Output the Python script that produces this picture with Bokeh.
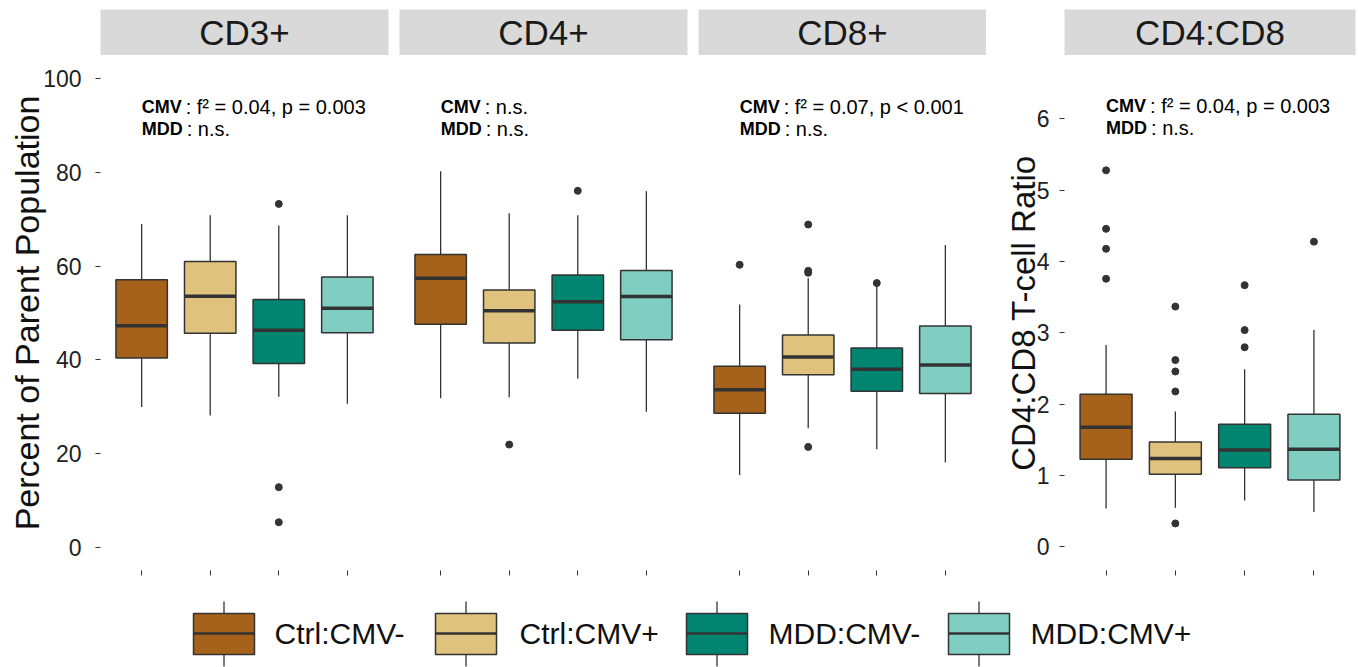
from bokeh.plotting import figure
from bokeh.layouts import row, column
from bokeh.models import Range1d, FixedTicker, ColumnDataSource
from bokeh.embed import file_html
from bokeh.resources import INLINE
from bokeh.core.properties import value

# ---------------- data ----------------
groups = ["Ctrl:CMV-", "Ctrl:CMV+", "MDD:CMV-", "MDD:CMV+"]
colors = ["#A6611A", "#DFC27D", "#018571", "#80CDC1"]
positions = [1, 2, 3, 4]
panels = ["CD3+", "CD4+", "CD8+", "CD4:CD8"]

cd3_lower = [29.9, 28.1, 32.1, 30.6]
cd3_q1 = [40.4, 45.7, 39.2, 45.8]
cd3_med = [47.3, 53.6, 46.3, 51.0]
cd3_q3 = [57.1, 61.0, 52.9, 57.7]
cd3_upper = [69.0, 70.9, 68.7, 70.9]
cd3_out_group = [3, 3, 3]
cd3_out_val = [73.3, 12.8, 5.3]

cd4_lower = [31.8, 32.0, 36.0, 28.9]
cd4_q1 = [47.6, 43.6, 46.3, 44.3]
cd4_med = [57.4, 50.5, 52.4, 53.5]
cd4_q3 = [62.5, 54.9, 58.1, 59.1]
cd4_upper = [80.3, 71.3, 70.9, 76.0]
cd4_out_group = [2, 3]
cd4_out_val = [21.9, 76.1]

cd8_lower = [15.4, 25.4, 20.9, 18.1]
cd8_q1 = [28.6, 36.8, 33.3, 32.8]
cd8_med = [33.6, 40.6, 38.0, 38.9]
cd8_q3 = [38.6, 45.3, 42.5, 47.2]
cd8_upper = [51.8, 57.4, 55.8, 64.5]
cd8_out_group = [1, 2, 2, 2, 2, 3]
cd8_out_val = [60.3, 68.9, 59.0, 58.6, 21.4, 56.4]

ratio_lower = [0.54, 0.55, 0.65, 0.49]
ratio_q1 = [1.23, 1.02, 1.11, 0.94]
ratio_med = [1.68, 1.24, 1.36, 1.37]
ratio_q3 = [2.14, 1.47, 1.72, 1.86]
ratio_upper = [2.83, 1.90, 2.49, 3.04]
ratio_out_group = [1, 1, 1, 1, 2, 2, 2, 2, 2, 3, 3, 3, 4]
ratio_out_val = [5.28, 4.46, 4.18, 3.76, 3.37, 2.62, 2.46, 2.18, 0.33, 3.67, 3.04, 2.80, 4.28]

pct_ticks = [0, 20, 40, 60, 80, 100]
ratio_ticks = [0, 1, 2, 3, 4, 5, 6]

annot_cmv = ["f\u00b2 = 0.04, p = 0.003", "n.s.", "f\u00b2 = 0.07, p < 0.001", "f\u00b2 = 0.04, p = 0.003"]
annot_mdd = ["n.s.", "n.s.", "n.s.", "n.s."]

# ---------------- styling / layout ----------------
FONT = value("Liberation Sans")
DARK = "#333333"
BOX_W = 0.75
STRIP_TOP = 9
STRIP_H = 46
FRAME_H = 515
BOTTOM_B = 10
# (width, min_border_left, min_border_right) per panel figure
geom = [(399, 100, 11), (299, 0, 11), (288, 0, 0), (372, 78, 3)]
yranges = [(-5, 105), (-5, 105), (-5, 105), (-0.33, 6.89)]
annot_y = [94.0, 94.0, 94.0, 6.18]

data = [
    (cd3_lower, cd3_q1, cd3_med, cd3_q3, cd3_upper, cd3_out_group, cd3_out_val),
    (cd4_lower, cd4_q1, cd4_med, cd4_q3, cd4_upper, cd4_out_group, cd4_out_val),
    (cd8_lower, cd8_q1, cd8_med, cd8_q3, cd8_upper, cd8_out_group, cd8_out_val),
    (ratio_lower, ratio_q1, ratio_med, ratio_q3, ratio_upper, ratio_out_group, ratio_out_val),
]


def style_common(p):
    p.grid.grid_line_color = None
    p.outline_line_color = None
    p.background_fill_color = "white"
    p.border_fill_color = "white"


strips = []
figs = []
for i, name in enumerate(panels):
    w, bl, br = geom[i]
    # strip header
    s = figure(width=w, height=STRIP_TOP + STRIP_H, x_range=Range1d(0, 1), y_range=Range1d(0, 1),
               min_border_left=bl, min_border_right=br, min_border_top=STRIP_TOP, min_border_bottom=0,
               x_axis_location=None, y_axis_location=None,
               toolbar_location=None, output_backend="svg")
    s.grid.grid_line_color = None
    s.outline_line_color = None
    s.background_fill_color = "#D9D9D9"
    s.border_fill_color = "white"
    s.text(x=[0.5], y=[0.5], text=[name], text_align="center", text_baseline="middle",
           text_font=FONT, text_font_size="35px", text_color="#1A1A1A")
    strips.append(s)

    has_y = i in (0, 3)
    p = figure(width=w, height=FRAME_H + BOTTOM_B,
               x_range=Range1d(0.4, 4.6), y_range=Range1d(*yranges[i]),
               min_border_left=bl, min_border_right=br, min_border_top=0,
               min_border_bottom=BOTTOM_B,
               y_axis_location="left" if has_y else None,
               toolbar_location=None, output_backend="svg")
    style_common(p)

    xa = p.xaxis[0]
    xa.ticker = FixedTicker(ticks=positions)
    xa.major_label_text_font_size = "1px"
    xa.major_label_text_color = None
    xa.major_label_standoff = 0
    xa.axis_line_color = None
    xa.major_tick_in = 0
    xa.major_tick_out = 5
    xa.major_tick_line_color = DARK
    xa.major_tick_line_width = 1
    xa.minor_tick_line_color = None

    if has_y:
        ya = p.yaxis[0]
        ya.ticker = FixedTicker(ticks=pct_ticks if i == 0 else ratio_ticks)
        ya.axis_label = "Percent of Parent Population" if i == 0 else "CD4:CD8 T-cell Ratio"
        ya.axis_label_text_font = "Liberation Sans"
        ya.axis_label_text_font_style = "normal"
        ya.axis_label_text_font_size = "34px" if i == 0 else "33px"
        ya.axis_label_text_color = "#111111"
        ya.axis_label_standoff = -6 if i == 0 else -8
        ya.major_label_text_font = "Liberation Sans"
        ya.major_label_text_font_size = "23px"
        ya.major_label_text_color = "#222222"
        ya.major_label_standoff = 14 if i == 0 else 10
        ya.axis_line_color = None
        ya.major_tick_in = 0
        ya.major_tick_out = 5
        ya.major_tick_line_color = DARK
        ya.minor_tick_line_color = None

    lower, q1, med, q3, upper, og, ov = data[i]
    src = ColumnDataSource(dict(
        x=positions, lower=lower, q1=q1, med=med, q3=q3, upper=upper, color=colors,
        x0=[x - BOX_W / 2 for x in positions], x1=[x + BOX_W / 2 for x in positions]))
    p.segment(x0="x", y0="q3", x1="x", y1="upper", source=src, line_color=DARK, line_width=1.3)
    p.segment(x0="x", y0="q1", x1="x", y1="lower", source=src, line_color=DARK, line_width=1.3)
    p.vbar(x="x", width=BOX_W, bottom="q1", top="q3", source=src,
           fill_color="color", line_color=DARK, line_width=1.5)
    p.segment(x0="x0", y0="med", x1="x1", y1="med", source=src, line_color=DARK, line_width=3.5)
    p.scatter(x=og, y=ov, size=7, fill_color=DARK, line_color=DARK)

    # annotations
    ay = annot_y[i]
    p.text(x=[1], y=[ay], text=["CMV"], text_font=FONT, text_font_style="bold",
           text_font_size="18px", text_baseline="alphabetic", text_align="left", text_color="black")
    p.text(x=[1], y=[ay], text=[": " + annot_cmv[i]], x_offset=44, text_font=FONT,
           text_font_size="20px", text_baseline="alphabetic", text_align="left", text_color="black")
    p.text(x=[1], y=[ay], text=["MDD"], y_offset=22, text_font=FONT, text_font_style="bold",
           text_font_size="18px", text_baseline="alphabetic", text_align="left", text_color="black")
    p.text(x=[1], y=[ay], text=[": " + annot_mdd[i]], x_offset=45, y_offset=22, text_font=FONT,
           text_font_size="20px", text_baseline="alphabetic", text_align="left", text_color="black")
    figs.append(p)

# ---------------- legend ----------------
TOTAL_W = sum(g[0] for g in geom)
LEG_TOP = STRIP_TOP + STRIP_H + FRAME_H + BOTTOM_B
LEG_H = 667 - LEG_TOP
leg = figure(width=TOTAL_W, height=LEG_H, x_range=Range1d(0, TOTAL_W), y_range=Range1d(667, LEG_TOP),
             min_border=0, x_axis_location=None, y_axis_location=None,
             toolbar_location=None, output_backend="svg")
style_common(leg)
key_left = [193, 435, 686, 948]
key_w = 61
label_left = [274, 519, 768, 1030]
kc = 633
lsrc = ColumnDataSource(dict(
    left=key_left, right=[k + key_w for k in key_left], xc=[k + key_w / 2 for k in key_left],
    top=[kc - 20] * 4, bottom=[kc + 21] * 4, wt=[kc - 32] * 4, wb=[kc + 33] * 4,
    yc=[kc] * 4, color=colors, lx=label_left, label=groups))
leg.segment(x0="xc", y0="wt", x1="xc", y1="top", source=lsrc, line_color=DARK, line_width=1.3)
leg.segment(x0="xc", y0="bottom", x1="xc", y1="wb", source=lsrc, line_color=DARK, line_width=1.3)
leg.quad(left="left", right="right", top="top", bottom="bottom", source=lsrc,
         fill_color="color", line_color=DARK, line_width=1.5)
leg.segment(x0="left", y0="yc", x1="right", y1="yc", source=lsrc, line_color=DARK, line_width=2.5)
leg.text(x="lx", y="yc", text="label", source=lsrc, text_font=FONT, text_font_size="30px",
         text_baseline="middle", text_align="left", text_color="#111111")

layout = column(row(*strips), row(*figs), leg)
open("out.html", "w").write(file_html(layout, INLINE))
